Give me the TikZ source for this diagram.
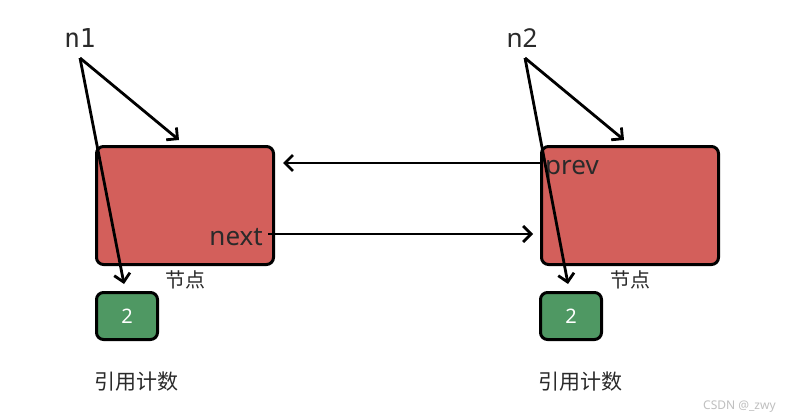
\documentclass[tikz,border=0pt]{standalone}
\usepackage{fontspec}
\setmainfont{Noto Sans}
\newfontfamily\cjk{Noto Sans CJK SC}
\newfontfamily\monof{DejaVu Sans Mono}
\usetikzlibrary{arrows.meta}
\definecolor{nodered}{HTML}{D35F5B}
\definecolor{countgreen}{HTML}{4F9863}
\definecolor{txt}{HTML}{2A2A2A}
\tikzset{
  nodebox/.style={draw=black, line width=3pt, fill=nodered, rounded corners=7pt, minimum width=177pt, minimum height=118pt, anchor=north west, inner sep=0pt},
  countbox/.style={draw=black, line width=3pt, fill=countgreen, rounded corners=7pt, minimum width=61pt, minimum height=47pt, anchor=north west, inner sep=0pt, text=white, font=\fontsize{20}{20}\selectfont},
  conn/.style={line width=2.8pt, -{Straight Barb[length=8pt,width=16pt,line width=2.8pt]}},
  lbl/.style={text=txt, inner sep=0pt},
}
\begin{document}
\begin{tikzpicture}[x=1pt,y=-1pt]
\useasboundingbox (0,0) rectangle (792,420);
\fill[white] (0,0) rectangle (792,420);
% nodes
\node[nodebox] (a) at (95,145) {};
\node[nodebox] (b) at (540,145) {};
\node[countbox] (ca) at (95,291) {2};
\node[countbox] (cb) at (539,291) {2};
% labels
\node[lbl, font=\monof\fontsize{26}{26}\selectfont] (n1) at (80,38) {n1};
\node[lbl, font=\fontsize{26}{26}\selectfont] (n2) at (522,38) {n2};
\node[lbl, anchor=base east, font=\fontsize{26}{26}\selectfont] (next) at (263,245) {next};
\node[lbl, anchor=base west, font=\fontsize{26}{26}\selectfont] (prev) at (545,174) {prev};
\node[lbl, font=\cjk\fontsize{20}{20}\selectfont] (ja) at (185,280) {节点};
\node[lbl, font=\cjk\fontsize{20}{20}\selectfont] (jb) at (630,280) {节点};
\node[lbl, font=\cjk\fontsize{21}{21}\selectfont] (ya) at (136,382) {引用计数};
\node[lbl, font=\cjk\fontsize{21}{21}\selectfont] (yb) at (580,382) {引用计数};
\node[lbl, anchor=west, text=black!25, font=\fontsize{12}{12}\selectfont] (wm) at (703,407) {CSDN @\_zwy};
% coordinates
\coordinate (s1) at (80,58);
\coordinate (s2) at (525,58);
\coordinate (t1) at (179,140);
\coordinate (t2) at (624,140);
\coordinate (u1) at (124,284);
\coordinate (u2) at (568,284);
\coordinate (pv) at (540,163);
\coordinate (nx) at (268,234);
% connectors
\draw[conn] (s1) -- (t1);
\draw[conn] (s1) -- (u1);
\draw[conn] (s2) -- (t2);
\draw[conn] (s2) -- (u2);
\draw[conn] (b.west |- pv) -- ([xshift=8pt]a.east |- pv);
\draw[conn] (nx) -- ([xshift=-7pt]b.west |- nx);
\end{tikzpicture}
\end{document}
